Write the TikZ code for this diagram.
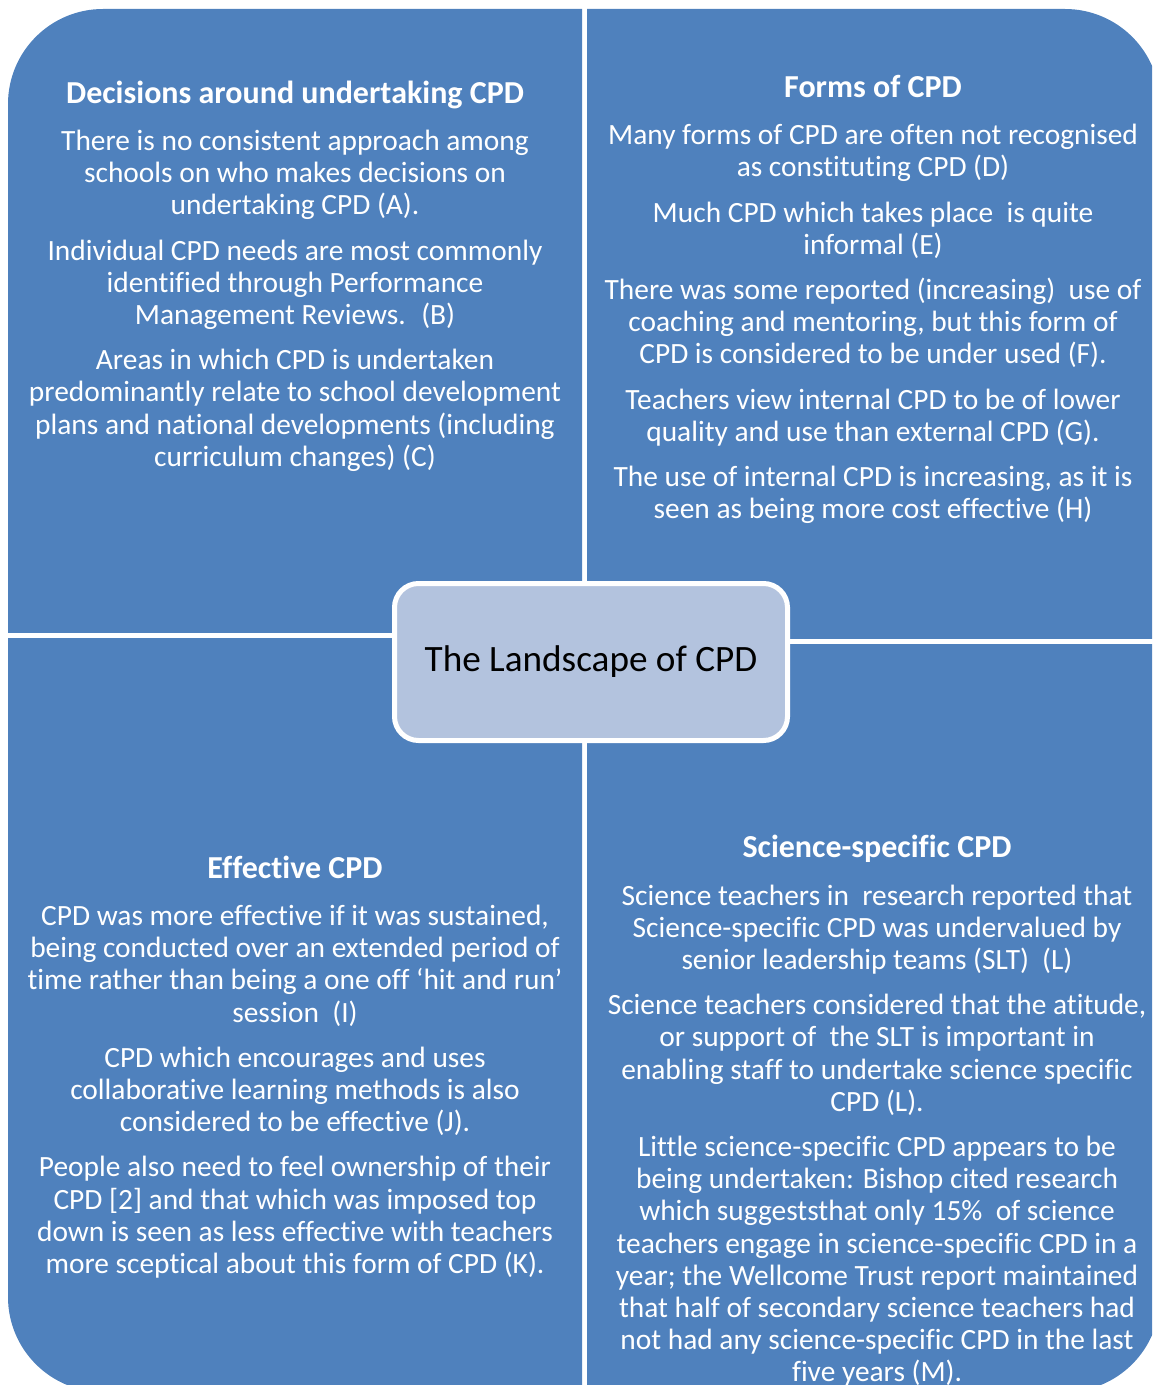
\documentclass[tikz,border=0pt]{standalone}
\usepackage{fontspec}
\setmainfont[Ligatures=NoCommon]{Carlito}
\definecolor{cpdblue}{HTML}{4F81BD}
\definecolor{cpdlight}{HTML}{B3C3DE}
\newcommand{\qhead}[1]{{\fontsize{16}{16}\selectfont\bfseries #1}\\[7.5pt]}
\tikzset{
  quad/.style={fill=cpdblue, rounded corners=47.5pt},
  quadtext/.style={text=white, align=center, inner sep=0pt, font=\fontsize{14.7}{16.1}\selectfont},
  core/.style={fill=cpdlight, draw=white, line width=2.5pt, rounded corners=12pt,
    minimum width=196.5pt, minimum height=78.5pt, text=black, font=\fontsize{18.6}{22}\selectfont}
}
\begin{document}
\begin{tikzpicture}[x=0.5pt,y=-0.5pt]
\path[use as bounding box, clip] (0,0) rectangle (1152,1385);
% four quadrants cut out of one rounded frame
\foreach \xa/\ya/\xb/\yb in {8/9/582/632, 587/9/1160/638, 8/638/582/1392, 587/644/1160/1392}{
  \begin{scope}
  \clip (\xa,\ya) rectangle (\xb,\yb);
  \fill[quad] (8,9) rectangle (1160,1392);
  \end{scope}}
\node[quadtext] (decisions) at (295,276) {\qhead{Decisions around undertaking CPD}
There is no consistent approach among\\ schools on who makes decisions on\\ undertaking CPD (A).\\[6.5pt]
Individual CPD needs are most commonly\\ identified through Performance\\ Management Reviews.~ (B)\\[6.5pt]
Areas in which CPD is undertaken\\ predominantly relate to school development\\ plans and national developments (including\\ curriculum changes) (C)};
\node[quadtext] (forms) at (873,299.5) {\qhead{Forms of CPD}
Many forms of CPD are often not recognised\\ as constituting CPD (D)\\[6.5pt]
Much CPD which takes place~ is quite\\ informal (E)\\[6.5pt]
There was some reported (increasing)~ use of\\ coaching and mentoring, but this form of\\ CPD is considered to be under used (F).\\[6.5pt]
Teachers view internal CPD to be of lower\\ quality and use than external CPD (G).\\[6.5pt]
The use of internal CPD is increasing, as it is\\ seen as being more cost effective (H)};
\node[quadtext] (effective) at (295,1067) {\qhead{Effective CPD}
CPD was more effective if it was sustained,\\ being conducted over an extended period of\\ time rather than being a one off ‘hit and run’\\ session~ (I)\\[6.5pt]
CPD which encourages and uses\\ collaborative learning methods is also\\ considered to be effective (J).\\[6.5pt]
People also need to feel ownership of their\\ CPD [2] and that which was imposed top\\ down is seen as less effective with teachers\\ more sceptical about this form of CPD (K).};
\node[quadtext] (science) at (877,1111) {\qhead{Science-specific CPD}
Science teachers in~ research reported that\\ Science-specific CPD was undervalued by\\ senior leadership teams (SLT)~ (L)\\[6.5pt]
Science teachers considered that the atitude,\\ or support of~ the SLT is important in\\ enabling staff to undertake science specific\\ CPD (L).\\[6.5pt]
Little science-specific CPD appears to be\\ being undertaken: Bishop cited research\\ which suggeststhat only 15\%~ of science\\ teachers engage in science-specific CPD in a\\ year; the Wellcome Trust report maintained\\ that half of secondary science teachers had\\ not had any science-specific CPD in the last\\ five years (M).};
\node[core] (landscape) at (591,662) {\raisebox{-1.5pt}{The Landscape of CPD}};
\end{tikzpicture}
\end{document}
